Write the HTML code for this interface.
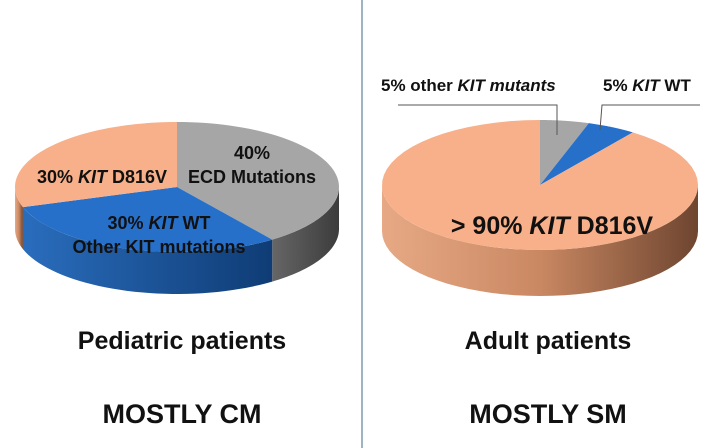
<!DOCTYPE html>
<html><head><meta charset="utf-8"><style>
body{margin:0;background:#fff;}
svg{display:block;font-family:"Liberation Sans",Arial,sans-serif;}
</style></head><body>
<svg id="c" width="724" height="448" viewBox="0 0 724 448">
<defs>
<linearGradient id="gBlue" x1="0" x2="1" y1="0" y2="0"><stop offset="0" stop-color="#2a6dbd"/><stop offset="1" stop-color="#0f3c75"/></linearGradient>
<linearGradient id="gGray" x1="0" x2="1"><stop offset="0" stop-color="#666"/><stop offset="1" stop-color="#3c3c3c"/></linearGradient>
<linearGradient id="gOr" x1="0" x2="1"><stop offset="0" stop-color="#e7a985"/><stop offset="0.5" stop-color="#c98862"/><stop offset="1" stop-color="#6e4530"/></linearGradient>
</defs>
<line x1="362" y1="0" x2="362" y2="448" stroke="#7f9cb0" stroke-width="1.5"/>
<g id="left"></g><g id="right"></g>
<g font-weight="bold" fill="#111">
<text x="182" y="349" font-size="25" text-anchor="middle">Pediatric patients</text>
<text x="182" y="423" font-size="27" text-anchor="middle">MOSTLY CM</text>
<text x="548" y="349" font-size="25" text-anchor="middle">Adult patients</text>
<text x="548" y="423" font-size="27" text-anchor="middle">MOSTLY SM</text>
<text x="252" y="159" font-size="18" text-anchor="middle">40%</text>
<text x="252" y="183" font-size="18" text-anchor="middle">ECD Mutations</text>
<text x="102" y="183" font-size="18" text-anchor="middle">30% <tspan font-style="italic">KIT</tspan> D816V</text>
<text x="159" y="229" font-size="18" text-anchor="middle">30%  <tspan font-style="italic">KIT</tspan> WT</text>
<text x="159" y="253" font-size="18" text-anchor="middle">Other KIT mutations</text>
<text x="552" y="234" font-size="25" text-anchor="middle">&gt; 90% <tspan font-style="italic">KIT</tspan> D816V</text>
<text x="381" y="91" font-size="17">5%  other <tspan font-style="italic">KIT mutants</tspan></text>
<text x="603" y="91" font-size="17">5%  <tspan font-style="italic">KIT</tspan> WT</text>
</g>
<polyline points="398,105 557,105 557,135" fill="none" stroke="#555"/>
<polyline points="700,105 602,105 600,130" fill="none" stroke="#555"/>
</svg>
<script>
const leftLabels=["ECD Mutations","KIT WT","KIT D816V"];
const leftValues=[40,30,30];
const rightLabels=["other KIT mutants","KIT WT","KIT D816V"];
const rightValues=[5,5,90];
const topCols=["#a6a6a6","#2770c9","#f7b08a"];
const sideCols=["url(#gGray)","url(#gBlue)","url(#gOr)"];
const NS="http://www.w3.org/2000/svg";
function pt(cx,cy,rx,ry,a,d){return [cx+rx*Math.cos(a*Math.PI/180),cy+ry*Math.sin(a*Math.PI/180)+d];}
function pie(g,vals,cx,cy,rx,ry,dep,name){
  const tot=vals.reduce((a,b)=>a+b,0);let a=-90;const segs=[];
  vals.forEach(v=>{const b=a+v/tot*360;segs.push([a,b]);a=b;});
  segs.forEach((s,i)=>{
    let lo=Math.max(s[0],0),hi=Math.min(s[1],180);
    if(hi>lo){
      let d="";const n=40;
      for(let k=0;k<=n;k++){const p=pt(cx,cy,rx,ry,lo+(hi-lo)*k/n,0);d+=(k?"L":"M")+p[0]+","+p[1];}
      for(let k=n;k>=0;k--){const p=pt(cx,cy,rx,ry,lo+(hi-lo)*k/n,dep);d+="L"+p[0]+","+p[1];}
      const el=document.createElementNS(NS,"path");el.setAttribute("d",d+"Z");el.setAttribute("fill",sideCols[i]);
      
      
      g.appendChild(el);
    }
  });
  segs.forEach((s,i)=>{
    let d="M"+cx+","+cy;const n=60;
    for(let k=0;k<=n;k++){const p=pt(cx,cy,rx,ry,s[0]+(s[1]-s[0])*k/n,0);d+="L"+p[0]+","+p[1];}
    const el=document.createElementNS(NS,"path");el.setAttribute("d",d+"Z");el.setAttribute("fill",topCols[i]);
    
    
    g.appendChild(el);
  });
}
pie(document.getElementById("left"),leftValues,177,187,162,65,42,"left-pie");
pie(document.getElementById("right"),rightValues,540,185,158,65,46,"right-pie");
</script>
</body></html>
